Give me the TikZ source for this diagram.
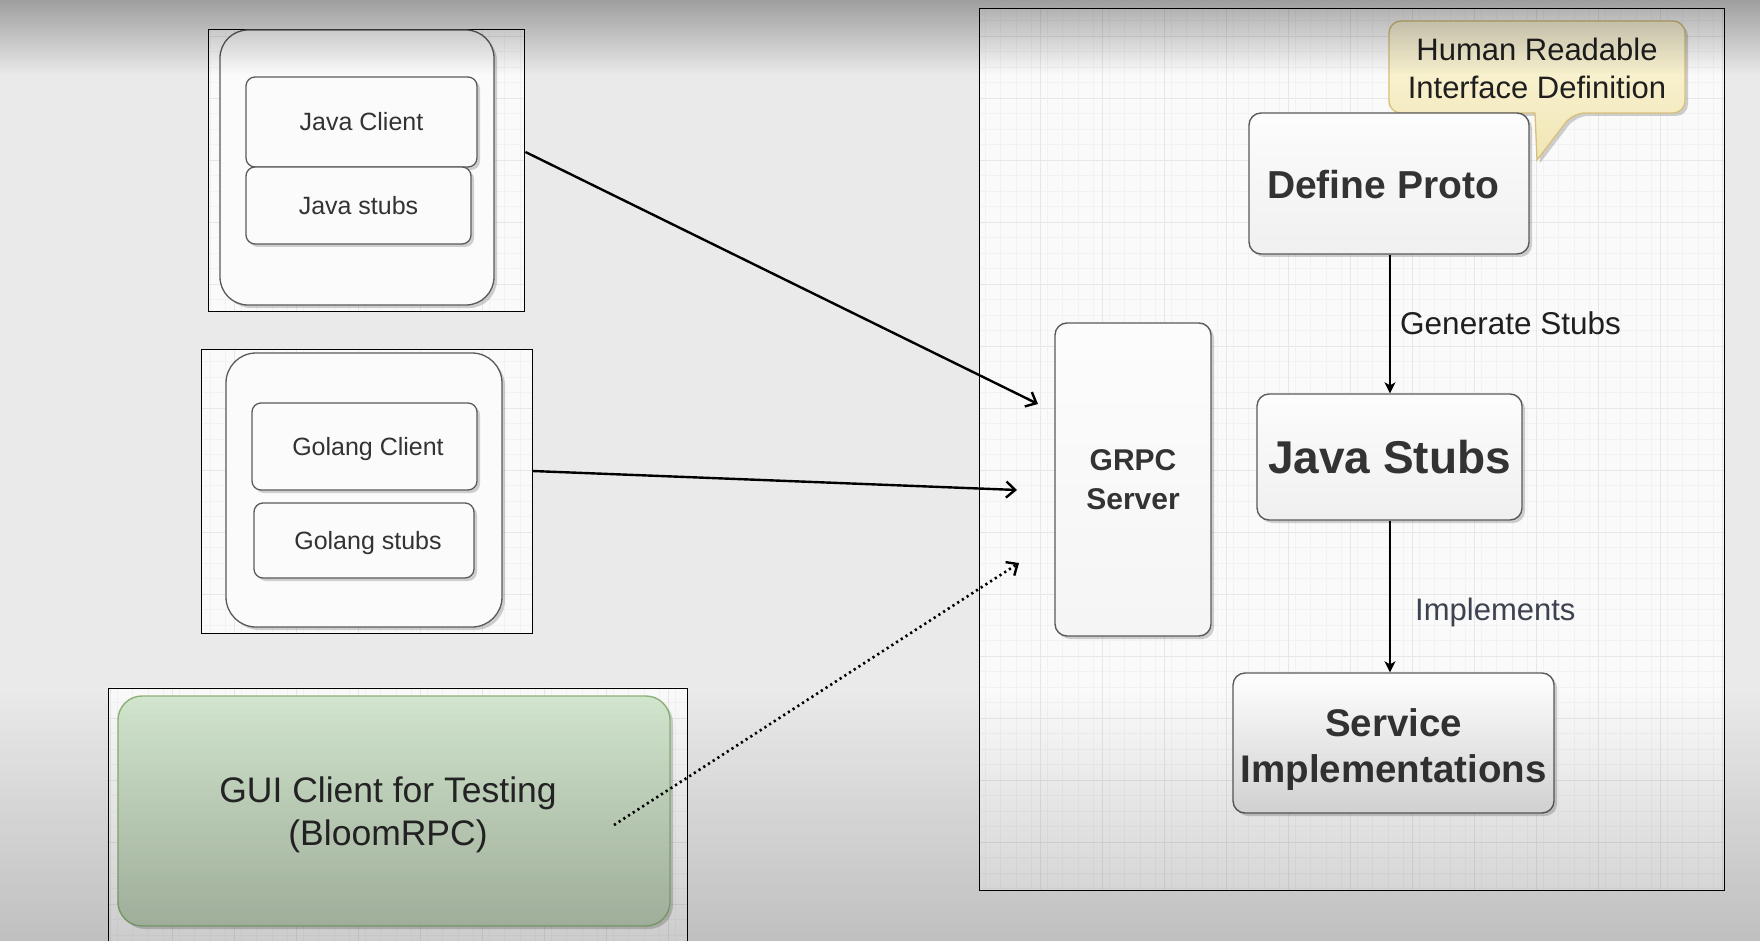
\documentclass[tikz,border=0pt]{standalone}
\usepackage{fontspec}
\setmainfont{Liberation Sans}
\usetikzlibrary{arrows.meta,shadows,calc,fadings}
\definecolor{txt}{HTML}{333333}
\definecolor{boxline}{HTML}{5A5A5A}
\definecolor{gridminor}{HTML}{F2F2F2}
\definecolor{gridmajor}{HTML}{E7E7E7}
\definecolor{bgc}{HTML}{EAEAEA}
\definecolor{framec}{HTML}{FAFAFA}
\definecolor{greenA}{HTML}{D3E6CF}
\definecolor{greenB}{HTML}{C0D2BA}
\definecolor{greenline}{HTML}{8DB37A}
\definecolor{callA}{HTML}{FDF8DC}
\definecolor{callB}{HTML}{F0E5B5}
\definecolor{callline}{HTML}{D8C07A}
\definecolor{implc}{HTML}{3D4250}
\tikzfading[name=topfade, top color=transparent!0, bottom color=transparent!100]
\tikzfading[name=botfade, top color=transparent!100, bottom color=transparent!0]
\newcommand\mygridlines{%
  \foreach \gx in {8.5,24,...,1760} \draw[gridminor, line width=0.6pt] (\gx,0) -- (\gx,941);
  \foreach \gy in {5,20.5,...,941} \draw[gridminor, line width=0.6pt] (0,\gy) -- (1760,\gy);
  \foreach \gx in {48,110,...,1760} \draw[gridmajor, line width=0.8pt] (\gx,0) -- (\gx,941);
  \foreach \gy in {36,98,...,941} \draw[gridmajor, line width=0.8pt] (0,\gy) -- (1760,\gy);}
\begin{document}
\begin{tikzpicture}[x=1pt,y=-1pt,
  frame/.style={draw=black, line width=0.9pt, inner sep=0pt},
  framefill/.style={fill=framec, draw=none, inner sep=0pt},
  shadowed/.style={drop shadow={shadow xshift=3pt, shadow yshift=-3pt, opacity=0.3, fill=black!60}},
  outerbox/.style={draw=boxline, line width=1.3pt, rounded corners=28pt, fill=white!97!gray, inner sep=0pt, shadowed},
  sbox/.style={draw=boxline, line width=1.3pt, rounded corners=9pt, fill=white!97!gray, inner sep=0pt, shadowed, text=txt, font=\fontsize{25}{30}\selectfont},
  bigbox/.style={draw=boxline, line width=1.4pt, rounded corners=12pt, top color=white!98!gray, bottom color=gray!12, inner sep=0pt, shadowed, text=txt, align=center},
  conn/.style={line width=2.4pt, -{Straight Barb[length=9pt,width=16pt,line width=2.4pt]}},
  vconn/.style={line width=1.4pt, -{Stealth[length=11pt,width=11pt,inset=3pt]}},
  lbl/.style={anchor=west, text=txt, font=\fontsize{31}{36}\selectfont, inner sep=0pt}
]
\useasboundingbox (0,0) rectangle (1760,941);
\clip (0,0) rectangle (1760,941);
% background
\fill[bgc] (0,0) rectangle (1760,941);

% frames (fills + grid)
\node[framefill, minimum width=316pt, minimum height=282pt] (fJfill) at (366,170) {};
\node[framefill, minimum width=331pt, minimum height=284pt] (fGfill) at (366.5,491) {};
\node[framefill, minimum width=579pt, minimum height=270pt] (fUfill) at (397.5,823) {};
\node[framefill, minimum width=745pt, minimum height=882pt] (fRfill) at (1351.5,449) {};
\foreach \f in {fJfill,fGfill,fUfill,fRfill}{
  \begin{scope}
    \clip (\f.south west) rectangle (\f.north east);
    \mygridlines
  \end{scope}
}
\node[frame, minimum width=316pt, minimum height=282pt] (frameJ) at (366,170) {};
\node[frame, minimum width=331pt, minimum height=284pt] (frameG) at (366.5,491) {};
\node[frame, minimum width=579pt, minimum height=270pt] (frameU) at (397.5,823) {};
\node[frame, minimum width=745pt, minimum height=882pt] (frameR) at (1351.5,449) {};

% Java client group
\node[outerbox, minimum width=274pt, minimum height=275pt] (outerJ) at (357,167.5) {};
\node[sbox, minimum width=231pt, minimum height=90pt] (jclient) at (361.5,122) {Java Client};
\node[sbox, minimum width=225pt, minimum height=77pt] (jstubs) at (358.5,205.5) {Java stubs};

% Golang client group
\node[outerbox, rounded corners=30pt, minimum width=276pt, minimum height=274pt] (outerG) at (364,490) {};
\node[sbox, minimum width=225pt, minimum height=87pt] (gclient) at (364.5,446.5) {};
\node[text=txt, font=\fontsize{25}{30}\selectfont, inner sep=0pt] (gclienttext) at (368,449) {Golang Client};
\node[sbox, minimum width=220pt, minimum height=75pt] (gstubs) at (364,540.5) {};
\node[text=txt, font=\fontsize{25}{30}\selectfont, inner sep=0pt] (gstubstext) at (368,543) {Golang stubs};

% GUI client
\node[draw=greenline, line width=1.4pt, rounded corners=24pt, top color=greenA, bottom color=greenB, inner sep=0pt, shadowed,
      minimum width=552pt, minimum height=230pt] (gui) at (394,811) {};
\node[align=center, text=black!85, inner sep=0pt,
      font=\fontsize{35.5}{43}\selectfont] (guitext) at (388,815) {GUI Client for Testing\\(BloomRPC)};

% callout
\draw[callline, line width=1.3pt, top color=callA, bottom color=callB, shadowed, rounded corners=12pt]
  (1389,67) -- (1389,21) -- (1685,21) -- (1685,113) -- (1573,113) [sharp corners] -- (1537,160) -- (1535,113) -- (1400,113) [rounded corners=12pt] -- (1389,113) -- cycle;
\node[align=center, text=black!88, font=\fontsize{31}{38}\selectfont, inner sep=0pt] (calltext) at (1537,68) {Human Readable\\Interface Definition};

% right side boxes
\node[bigbox, minimum width=280pt, minimum height=141pt] (proto) at (1389,183.5) {};
\node[text=txt, font=\bfseries\fontsize{39}{44}\selectfont, inner sep=0pt] (prototext) at (1383,185) {Define Proto};
\node[bigbox, minimum width=265pt, minimum height=126pt, font=\bfseries\fontsize{46}{52}\selectfont] (jstubsR) at (1389.5,457) {Java Stubs};
\node[bigbox, bottom color=gray!20, minimum width=321pt, minimum height=140pt] (service) at (1393.5,743) {};
\node[align=center, text=txt, inner sep=0pt, font=\bfseries\fontsize{38.5}{46}\selectfont] (servicetext) at (1393.5,750) {Service\\Implementations};
\node[bigbox, top color=white!98!gray, bottom color=gray!8, minimum width=156pt, minimum height=313pt, font=\bfseries\fontsize{30}{39}\selectfont] (grpc) at (1133,479.5) {GRPC\\Server};

% labels
\node[lbl, text=black!88, font=\fontsize{31.5}{36}\selectfont] (genlbl) at (1400,323) {Generate Stubs};
\node[lbl, text=implc] (implbl) at (1415,612) {Implements};

% connectors
\coordinate (tipJ) at (1038,404);
\coordinate (tipG) at (1017,490);
\coordinate (tipU) at (1019,563);
\coordinate (startU) at (614,825);
\draw[conn] ($(frameJ.east)+(1,-18)$) -- (tipJ);
\draw[conn] ($(frameG.east)+(0,-20)$) -- (tipG);
\draw[conn, line width=2.6pt, dash pattern=on 2.2pt off 3.4pt] (startU) -- (tipU);
\draw[vconn] (proto.south -| 1390,0) -- (jstubsR.north -| 1390,0);
\draw[vconn] (jstubsR.south -| 1390,0) -- (service.north -| 1390,0);

% screen vignette (top and bottom)
\fill[black, opacity=0.32, path fading=topfade] (0,0) rectangle (1760,75);
\fill[black, opacity=0.18, path fading=botfade] (0,690) rectangle (1760,941);
\end{tikzpicture}
\end{document}
